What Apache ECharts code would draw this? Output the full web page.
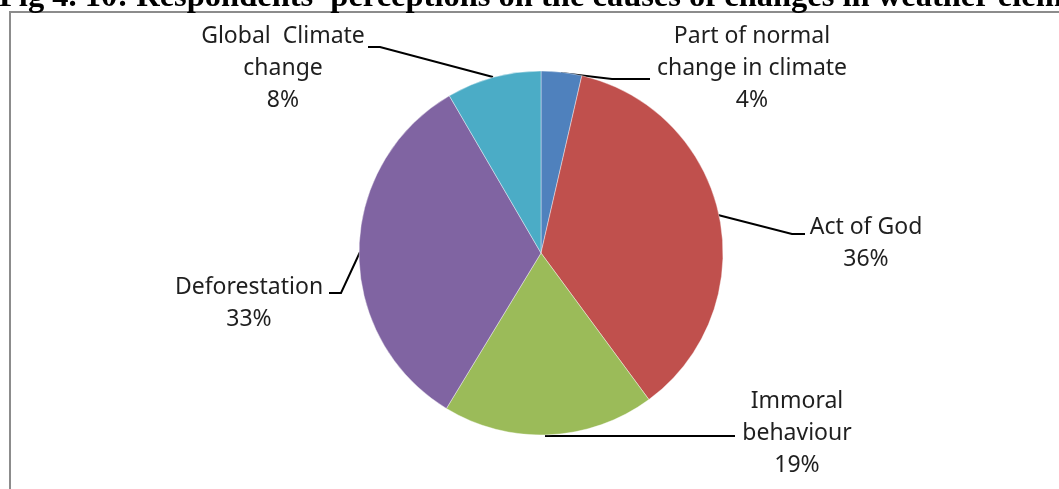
<!DOCTYPE html>
<html>
<head>
<meta charset="utf-8">
<script src="https://cdn.jsdelivr.net/npm/echarts@6/dist/echarts.min.js"></script>
<style>
html,body{margin:0;padding:0;background:#fff;}
#chart{width:1059px;height:489px;}
</style>
</head>
<body>
<div id="chart"></div>
<script>
const categories = [
  'Part of normal\nchange in climate',
  'Act of God',
  'Immoral\nbehaviour',
  'Deforestation',
  'Global  Climate\nchange'
];
const values = [3.6, 36.3, 18.8, 32.9, 8.4];
const colors = ['#4F81BD', '#C0504D', '#9BBB59', '#8064A2', '#4BACC6'];
const titleText = "Fig 4. 10: Respondents' perceptions on the causes of changes in weather elements";

// label placement (centre of label) and leader line points
const labelPlace = [
  {x: 752, y: 68, line: [[561, 73], [612, 79], [650, 79]]},
  {x: 866, y: 243, line: [[718, 215], [792, 234], [805, 234]]},
  {x: 797, y: 433, line: [[545, 436], [600, 436], [735, 436]]},
  {x: 249, y: 303, line: [[360, 252], [341, 293], [329, 293]]},
  {x: 283, y: 68, line: [[493, 77], [380, 47], [368, 47]]}
];

const chart = echarts.init(document.getElementById('chart'));
chart.setOption({
  animation: false,
  backgroundColor: '#fff',
  title: {
    text: titleText,
    left: -1,
    top: -19,
    padding: 0,
    textStyle: {fontFamily: 'Liberation Serif', fontWeight: 'bold', fontSize: 32.5, color: '#000'}
  },
  graphic: [{
    type: 'rect',
    shape: {x: 10, y: 12, width: 1200, height: 600},
    style: {fill: 'none', stroke: '#8c8c8c', lineWidth: 2},
    z: -1
  }],
  series: [{
    type: 'pie',
    center: [541, 253],
    radius: 182,
    startAngle: 90,
    clockwise: true,
    data: categories.map((c, i) => ({name: c, value: values[i], itemStyle: {color: colors[i]}})),
    itemStyle: {borderColor: '#fff', borderWidth: 0.4},
    label: {
      show: true,
      formatter: p => p.name + '\n' + Math.round(p.percent) + '%',
      fontFamily: 'Noto Sans',
      fontSize: 23,
      lineHeight: 32,
      color: '#1f1f1f',
      align: 'center'
    },
    labelLine: {show: true, lineStyle: {color: '#000', width: 2}},
    labelLayout: function (params) {
      const p = labelPlace[params.dataIndex];
      return {x: p.x, y: p.y, align: 'center', verticalAlign: 'middle', labelLinePoints: p.line};
    }
  }]
});
</script>
</body>
</html>
